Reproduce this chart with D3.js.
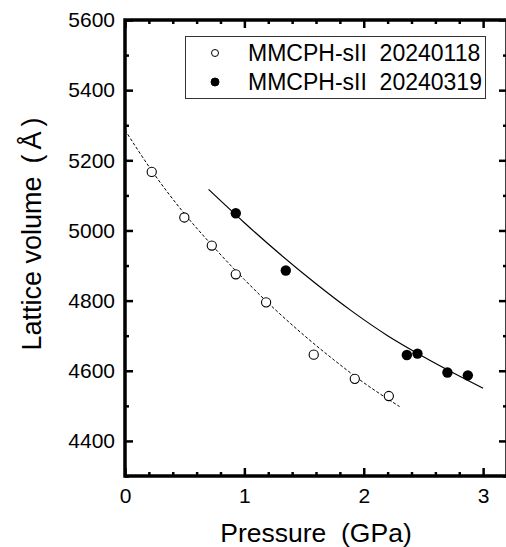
<!DOCTYPE html>
<html>
<head>
<meta charset="utf-8">
<script src="https://cdn.jsdelivr.net/npm/d3@7"></script>
<style>
  body { margin: 0; background: #fff; }
  text { font-family: "Liberation Sans", Arial, sans-serif; fill: #000; }
</style>
</head>
<body>
<div id="chart"></div>
<script>
// measured points, pressure (GPa) vs lattice volume
var openP = [0.224, 0.497, 0.727, 0.928, 1.182, 1.581, 1.925, 2.210];
var openV = [5167, 5037, 4957, 4875, 4795, 4646, 4577, 4528];
var fillP = [0.928, 1.347, 2.361, 2.450, 2.701, 2.872];
var fillV = [5049, 4886, 4645, 4649, 4595, 4587];

// fit curves
var fitOpenP = [0, 0.25, 0.5, 0.75, 1.0, 1.25, 1.5, 1.75, 2.0, 2.3];
var fitOpenV = [5286, 5158, 5047, 4950, 4860, 4777, 4701, 4631, 4566, 4498];
var fitFillP = [0.7, 1.0, 1.3, 1.6, 1.9, 2.2, 2.5, 2.8, 3.0];
var fitFillV = [5117, 5022, 4932, 4848, 4770, 4700, 4640, 4585, 4550];

var xTicks = [0, 1, 2, 3];
var xMinor = [0.2, 0.4, 0.6, 0.8, 1.2, 1.4, 1.6, 1.8, 2.2, 2.4, 2.6, 2.8, 3.2];
var yTicks = [4400, 4600, 4800, 5000, 5200, 5400, 5600];
var yMinor = [4300, 4500, 4700, 4900, 5100, 5300, 5500];
var legendNames = ["MMCPH-sII  20240118", "MMCPH-sII  20240319"];

var W = 506, H = 547;
var marg = {top: 20, left: 125, right: 507, bot: 476};

var svg = d3.select("#chart").append("svg")
  .attr("width", W)
  .attr("height", H);

var x = d3.scaleLinear().domain([0, 3.2]).range([marg.left, marg.right]);
var y = d3.scaleLinear().domain([4300, 5600]).range([marg.bot, marg.top]);

function zip(a, b) {
  return a.map(function(d, i) { return [d, b[i]]; });
}

// d3 axes, ticks pointing inward, labels only bottom/left
function addAxis(axis, tx, ty) {
  var g = svg.append("g")
    .attr("transform", "translate(" + tx + "," + ty + ")")
    .call(axis);
  g.select(".domain").remove();
  g.selectAll(".tick line").attr("stroke", "#000").attr("stroke-width", 2.5);
  g.selectAll("text")
    .attr("fill", "#000")
    .style("font-family", '"Liberation Sans", Arial, sans-serif')
    .style("font-size", "21px");
  return g;
}
addAxis(d3.axisBottom(x).tickValues(xTicks).tickSize(-8).tickPadding(12).tickFormat(d3.format("d")), 0, marg.bot);
addAxis(d3.axisBottom(x).tickValues(xMinor).tickSize(-4).tickFormat(""), 0, marg.bot);
addAxis(d3.axisTop(x).tickValues(xTicks).tickSize(-8).tickFormat(""), 0, marg.top);
addAxis(d3.axisTop(x).tickValues(xMinor).tickSize(-4).tickFormat(""), 0, marg.top);
addAxis(d3.axisLeft(y).tickValues(yTicks).tickSize(-8).tickPadding(10).tickFormat(d3.format("d")), marg.left, 0);
addAxis(d3.axisLeft(y).tickValues(yMinor).tickSize(-4).tickFormat(""), marg.left, 0);
addAxis(d3.axisRight(y).tickValues(yTicks).tickSize(-8).tickFormat(""), marg.right, 0);
addAxis(d3.axisRight(y).tickValues(yMinor).tickSize(-4).tickFormat(""), marg.right, 0);

// frame
svg.append("rect")
  .attr("x", marg.left).attr("y", marg.top)
  .attr("width", marg.right - marg.left).attr("height", marg.bot - marg.top)
  .attr("fill", "none").attr("stroke", "#000").attr("stroke-width", 3.5);

// axis titles
svg.append("text")
  .attr("x", 316).attr("y", 542)
  .attr("text-anchor", "middle")
  .style("font-size", "26.5px")
  .attr("xml:space", "preserve")
  .text("Pressure  (GPa)");

var ylab = svg.append("text")
  .attr("transform", "translate(41,234) rotate(-90)")
  .attr("text-anchor", "middle")
  .style("font-size", "27px");
ylab.append("tspan").text("Lattice volume");
ylab.append("tspan").attr("dx", 13).text("(");
ylab.append("tspan").attr("dx", 5).text("Å");
ylab.append("tspan").attr("dx", 5).text(")");

// fit lines
var line = d3.line()
  .x(function(d) { return x(d[0]); })
  .y(function(d) { return y(d[1]); })
  .curve(d3.curveMonotoneX);

svg.append("path")
  .datum(zip(fitOpenP, fitOpenV))
  .attr("d", line)
  .attr("fill", "none").attr("stroke", "#000").attr("stroke-width", 1)
  .attr("stroke-dasharray", "3,2");

svg.append("path")
  .datum(zip(fitFillP, fitFillV))
  .attr("d", line)
  .attr("fill", "none").attr("stroke", "#000").attr("stroke-width", 1.2);

// points
svg.selectAll(".open").data(zip(openP, openV)).enter().append("circle")
  .attr("class", "open")
  .attr("cx", function(d) { return x(d[0]); })
  .attr("cy", function(d) { return y(d[1]); })
  .attr("r", 4.6)
  .attr("fill", "#fff").attr("stroke", "#000").attr("stroke-width", 1.1);

svg.selectAll(".filled").data(zip(fillP, fillV)).enter().append("circle")
  .attr("class", "filled")
  .attr("cx", function(d) { return x(d[0]); })
  .attr("cy", function(d) { return y(d[1]); })
  .attr("r", 5.2)
  .attr("fill", "#000");

// legend
var leg = svg.append("g");
leg.append("rect")
  .attr("x", 185.5).attr("y", 36.5).attr("width", 300).attr("height", 62)
  .attr("fill", "#fff").attr("stroke", "#333").attr("stroke-width", 1);
legendNames.forEach(function(name, i) {
  var cy = 53 + i * 29;
  leg.append("circle")
    .attr("cx", 215).attr("cy", cy).attr("r", i == 0 ? 3.5 : 4)
    .attr("fill", i == 0 ? "#fff" : "#000")
    .attr("stroke", "#000").attr("stroke-width", 1);
  leg.append("text")
    .attr("x", 248).attr("y", cy + 8)
    .style("font-size", "23px")
    .attr("xml:space", "preserve")
    .text(name);
});
</script>
</body>
</html>
